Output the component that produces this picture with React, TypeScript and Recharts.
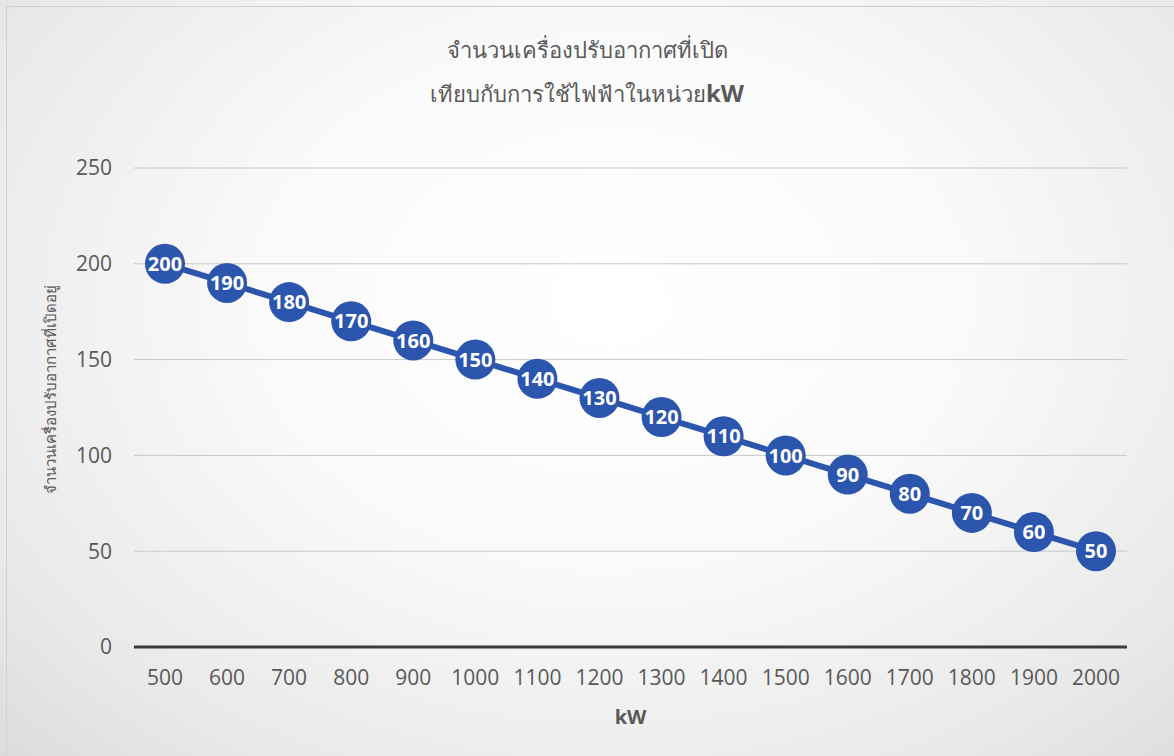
import React from 'react';
import { LineChart, Line, XAxis, YAxis, CartesianGrid, LabelList } from 'recharts';

const kwLabels = ['500', '600', '700', '800', '900', '1000', '1100', '1200', '1300', '1400', '1500', '1600', '1700', '1800', '1900', '2000'];
const units = [200, 190, 180, 170, 160, 150, 140, 130, 120, 110, 100, 90, 80, 70, 60, 50];
const yTicks = [0, 50, 100, 150, 200, 250];

const data = kwLabels.map((kw, i) => ({ kw, units: units[i] }));

const BLUE = '#2c55ad';
const GREY = '#595959';
const FONT = '"Open Sans", "Noto Sans", sans-serif';

const Dot = (props: any) => {
  const { cx, cy } = props;
  if (cx == null || cy == null) return null;
  return <circle cx={cx} cy={cy} r={20} fill={BLUE} />;
};

// y-axis title, nudged a bit above the plot's centre like the original
const YTitle = (props: any) => {
  const vb = props.viewBox || {};
  const x = (vb.x ?? 74) - 24;
  const y = (vb.y ?? 168) + (vb.height ?? 479) / 2 - 18;
  return (
    <text
      x={x}
      y={y}
      transform={`rotate(-90 ${x} ${y})`}
      textAnchor="middle"
      dominantBaseline="central"
      fill={GREY}
      fontSize={15}
      fontFamily={FONT}
    >
      จำนวนเครื่องปรับอากาศที่เปิดอยู่
    </text>
  );
};

const App = () => {
  return (
    <div
      style={{
        position: 'absolute',
        left: 0,
        top: 0,
        width: 1174,
        height: 756,
        overflow: 'hidden',
        background: 'radial-gradient(ellipse at 52% 40%, #ffffff 0%, #fafafa 40%, #e9e9e9 80%, #dcdcdc 100%)',
        fontFamily: FONT,
      }}
    >
      <div
        style={{
          position: 'absolute',
          left: 6,
          top: 6,
          width: 1200,
          height: 760,
          border: '1px solid #d0d0d0',
        }}
      />
      <div
        style={{
          position: 'absolute',
          left: 0,
          width: 1174,
          top: 27,
          textAlign: 'center',
          color: GREY,
          fontSize: 22,
          lineHeight: '44px',
        }}
      >
        <div>จำนวนเครื่องปรับอากาศที่เปิด</div>
        <div>
          เทียบกับการใช้ไฟฟ้าในหน่วย<span style={{ fontWeight: 700, fontSize: 24 }}>kW</span>
        </div>
      </div>

      <LineChart
        width={1174}
        height={756}
        data={data}
        margin={{ top: 168, right: 47, bottom: 69, left: 74 }}
        style={{ position: 'absolute', left: 0, top: 0 }}
      >
        <CartesianGrid vertical={false} stroke="#c8c8c8" strokeWidth={1} />
        <XAxis
          dataKey="kw"
          height={40}
          padding={{ left: 31, right: 31 }}
          axisLine={{ stroke: '#3a3a3a', strokeWidth: 3 }}
          tickLine={false}
          tickSize={0}
          tickMargin={23}
          interval={0}
          tick={{ fill: GREY, fontSize: 21, fontFamily: FONT }}
          label={{ value: 'kW', position: 'insideBottom', offset: -37, fill: GREY, fontSize: 20, fontWeight: 700, fontFamily: FONT }}
        />
        <YAxis
          width={60}
          domain={[0, 250]}
          ticks={yTicks}
          axisLine={false}
          tickLine={false}
          tickSize={0}
          tickMargin={22}
          tick={{ fill: GREY, fontSize: 21, fontFamily: FONT }}
          label={<YTitle />}
        />
        <Line
          type="linear"
          dataKey="units"
          stroke={BLUE}
          strokeWidth={6}
          dot={<Dot />}
          activeDot={false}
          isAnimationActive={false}
        >
          <LabelList
            dataKey="units"
            position="center"
            fill="#ffffff"
            fontSize={20}
            fontWeight={700}
            fontFamily={FONT}
          />
        </Line>
      </LineChart>
    </div>
  );
};

export default App;
